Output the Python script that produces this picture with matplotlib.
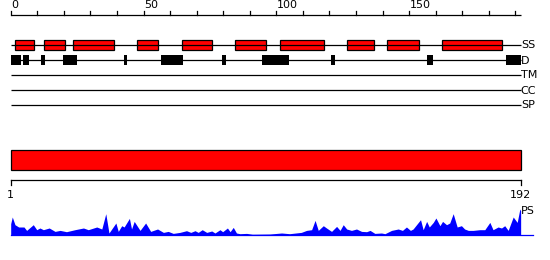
import matplotlib
matplotlib.use("Agg")
import matplotlib.pyplot as plt
from matplotlib.patches import Rectangle

# ---------------- data ----------------
seq_len = 192
top_ticks = list(range(0, 191, 10))
top_labels = [0, 50, 100, 150]
track_names = ["SS", "D", "TM", "CC", "SP"]

ss_start = [1.7, 12.6, 23.6, 47.7, 64.6, 84.6, 101.5, 126.7, 141.8, 162.5]
ss_end = [8.7, 20.6, 38.8, 55.6, 75.7, 96.0, 117.8, 136.7, 153.8, 185.1]

d_start = [0.0, 4.6, 11.4, 19.7, 42.7, 56.6, 79.6, 94.6, 120.6, 156.7, 186.4]
d_end = [3.9, 6.9, 12.9, 25.0, 43.8, 64.9, 81.0, 104.7, 122.0, 158.9, 192.0]

bottom_labels = ["1", "192"]

ps_pos = [0.0, 0.6, 1.6, 3.0, 5.0, 6.0, 8.5, 9.8, 11.0, 12.3, 14.5, 16.7, 18.6,
          21.0, 24.2, 27.4, 29.2, 32.4, 34.3, 35.8, 37.0, 39.6, 40.5, 41.8,
          42.7, 44.7, 45.5, 46.5, 48.7, 50.8, 52.7, 55.3, 57.5, 59.3, 61.2,
          63.7, 66.2, 67.8, 69.4, 70.6, 72.1, 73.8, 75.7, 76.9, 78.8, 79.8,
          81.6, 82.6, 83.8, 85.0, 86.3, 88.8, 91.0, 97.6, 102.0, 105.0, 109.4,
          111.4, 113.3, 114.6, 115.8, 117.7, 118.9, 120.8, 122.7, 124.0, 125.2,
          126.5, 128.3, 130.2, 132.1, 134.0, 135.3, 137.1, 139.6, 140.9, 143.4,
          145.9, 147.5, 149.0, 150.5, 151.5, 154.3, 155.3, 156.6, 157.6, 159.1,
          160.1, 161.6, 162.6, 164.1, 165.3, 166.6, 168.1, 169.7, 170.9, 172.3,
          174.1, 176.6, 178.5, 180.4, 181.6, 183.5, 184.8, 186.0, 187.3, 189.2,
          190.7, 191.7, 192.0]
ps_val = [11.0, 17.7, 10.0, 7.7, 7.7, 4.3, 10.0, 5.0, 6.7, 5.0, 6.7, 3.3, 4.3,
          3.0, 5.0, 6.7, 5.0, 7.7, 5.7, 21.0, 1.7, 11.7, 3.3, 9.0,
          7.7, 16.3, 5.7, 13.3, 4.3, 11.7, 3.3, 5.7, 2.3, 3.3, 1.3,
          2.3, 4.0, 2.3, 4.0, 2.3, 5.0, 2.3, 3.7, 1.7, 5.0, 3.0,
          6.7, 3.0, 7.3, 1.7, 1.0, 1.3, 0.5, 0.7, 1.7, 1.0, 2.3,
          4.3, 5.0, 14.3, 4.3, 9.0, 6.7, 3.3, 8.3, 4.3, 10.0,
          5.7, 4.3, 5.7, 3.3, 3.0, 4.3, 1.3, 1.7, 1.0, 4.3,
          5.7, 4.3, 7.7, 4.3, 5.7, 15.0, 5.0, 13.3, 7.7, 12.3,
          16.7, 9.0, 13.3, 10.0, 11.7, 21.0, 7.7, 9.0, 5.7, 4.3,
          4.3, 5.0, 5.0, 12.3, 5.0, 7.7, 6.7, 9.0, 4.3, 17.7,
          12.3, 25.7, 24.0]

# ---------------- layout (pixels) ----------------
W, H = 550, 260
x0_px, px_per_res = 10.7, 2.656
axis_y = 15
track_y = [45, 60, 75, 90, 105]
box_h = 10
bar_top, bar_bot = 150, 170
bax_y = 180
ps_base = 234.7

fig = plt.figure(figsize=(W / 100, H / 100), dpi=100)
ax = fig.add_axes([0, 0, 1, 1])
ax.set_xlim(-x0_px / px_per_res, (W - x0_px) / px_per_res)
ax.set_ylim(H, 0)
ax.axis("off")

lw = 0.9
fs = 8
font = "DejaVu Sans"
res_per_px = 1 / px_per_res

# top ruler
ax.plot([0, seq_len], [axis_y, axis_y], color="black", lw=lw, solid_capstyle="butt")
for t in top_ticks:
    ax.plot([t, t], [axis_y, axis_y - 4], color="black", lw=lw)
for t in top_labels:
    ax.text(t + 0.3 * res_per_px, axis_y - 4.5, str(t), ha="left", va="bottom",
            fontsize=fs, family=font)

# tracks
for name, y in zip(track_names, track_y):
    ax.plot([0, seq_len], [y, y], color="black", lw=lw, solid_capstyle="butt")
    ax.text(seq_len + 0.2 * res_per_px, y + 0.5, name, ha="left", va="center",
            fontsize=fs, family=font)

for s, e in zip(ss_start, ss_end):
    ax.add_patch(Rectangle((s, track_y[0] - box_h / 2), e - s, box_h,
                           facecolor="#ff0000", edgecolor="black", lw=lw))
for s, e in zip(d_start, d_end):
    ax.add_patch(Rectangle((s, track_y[1] - 5.3), e - s, 10.7,
                           facecolor="black", edgecolor="black", lw=0))

# big bar
ax.add_patch(Rectangle((0, bar_top), seq_len, bar_bot - bar_top,
                       facecolor="#ff0000", edgecolor="black", lw=lw))

# bottom ruler
ax.plot([0, seq_len], [bax_y, bax_y], color="black", lw=lw)
for t in [0, seq_len]:
    ax.plot([t, t], [bax_y, bax_y + 5], color="black", lw=lw)
ax.text(0, bax_y + 10, bottom_labels[0], ha="center", va="top", fontsize=fs, family=font)
ax.text(seq_len, bax_y + 10, bottom_labels[1], ha="center", va="top", fontsize=fs, family=font)

# PS profile
ax.fill_between(ps_pos, [ps_base] * len(ps_pos), [ps_base - v for v in ps_val],
                color="#0000ff", lw=0)
ax.plot([0, seq_len + 12 * res_per_px], [ps_base, ps_base], color="#0000ff", lw=lw)
ax.text(seq_len + 0.2 * res_per_px, 211, "PS", ha="left", va="center",
        fontsize=fs, family=font)

fig.savefig("out.png", dpi=100)
